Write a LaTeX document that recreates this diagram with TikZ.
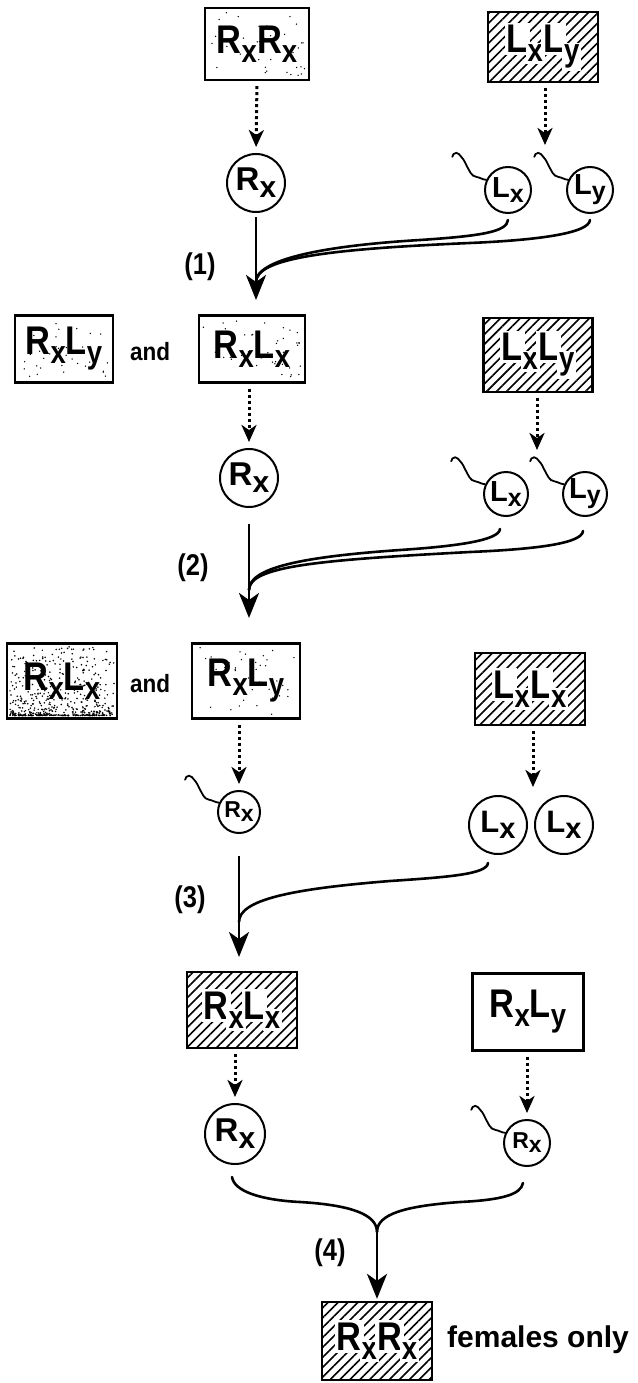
\documentclass[tikz,border=0pt]{standalone}
\usepackage{fontspec}
\setmainfont{Liberation Sans}
\usepackage{graphicx}
\usetikzlibrary{arrows.meta,patterns.meta,calc}

\newcommand\wb[1]{{\setlength\fboxsep{2.5pt}\hspace*{-2.5pt}\colorbox{white}{#1}\hspace*{-2.5pt}}}
\newcommand\BL[2]{{\fontsize{40}{40}\selectfont #1}\raisebox{-9pt}{\fontsize{32}{32}\selectfont #2}}
\newcommand\HBL[2]{\wb{\fontsize{40}{40}\selectfont #1}\raisebox{-9pt}{\wb{\fontsize{32}{32}\selectfont #2}}}
\newcommand\boxtext[1]{\scalebox{0.86}[1]{\bfseries #1}}
\newcommand\CL[5]{{\bfseries\fontsize{#3}{#3}\selectfont #1}\raisebox{-#5}{\bfseries\fontsize{#4}{#4}\selectfont #2}}

% light stippled box: name, x, y(screen), w, h, label
\newcommand\stipbox[6]{%
  \node[bx, minimum width=#4pt, minimum height=#5pt] (#1) at (#2,-#3) {};
  \foreach \i in {1,...,40}{%
    \pgfmathsetmacro\sx{#2-#4/2+4+rnd*(#4-8)}%
    \pgfmathsetmacro\sy{-#3-#5/2+4+rnd*(#5-8)}%
    \fill (\sx,\sy) circle (0.75pt);}
  \node (#1t) at (#2,-#3) {\boxtext{#6}};
}
% dense (bottom) stippled box
\newcommand\densebox[6]{%
  \node[bx, minimum width=#4pt, minimum height=#5pt] (#1) at (#2,-#3) {};
  \foreach \i in {1,...,520}{%
    \pgfmathsetmacro\sx{#2-#4/2+3+rnd*(#4-6)}%
    \pgfmathsetmacro\sy{-#3-#5/2+3+(#5-6)*rnd^3}%
    \fill (\sx,\sy) circle (0.85pt);}
  \node (#1t) at (#2,-#3) {\boxtext{#6}};
}
% hatched box
\newcommand\hatbox[6]{%
  \node[hb, minimum width=#4pt, minimum height=#5pt] (#1) at (#2,-#3) {};
  \node (#1t) at (#2,-#3) {\boxtext{#6}};
}
\newcommand\tail[1]{\draw[tailst] (#1) to[out=175,in=-10] ++(-10,3) to[out=170,in=-60] ++(-9,10) to[out=120,in=-45] ++(-6,10) to[out=135,in=0] ++(-5,4) to[out=180,in=80] ++(-4,-4);}

\begin{document}
\begin{tikzpicture}[x=1pt,y=1pt,
  bx/.style={draw, line width=2.3pt, inner sep=0pt},
  hb/.style={bx, pattern={Lines[angle=45,distance=7pt,line width=1.6pt]}},
  circ/.style={draw, circle, line width=2pt, inner sep=0pt},
  dotarrow/.style={line width=3pt, dash pattern=on 3pt off 3pt, -{Stealth[length=17pt,width=15pt,inset=5pt]}, shorten <=5pt, shorten >=6pt},
  mainarrow/.style={line width=2.8pt, -{Stealth[length=25pt,width=20pt,inset=7pt]}},
  feed/.style={line width=2.6pt, line cap=round},
  tailst/.style={line width=1.8pt, line cap=round},
  steplab/.style={inner sep=0pt},
  andlab/.style={inner sep=0pt}
]
\fill[white] (0,0) rectangle (637,-1383);
\useasboundingbox (0,0) rectangle (637,-1383);
\pgfmathsetseed{12345}

% ---------- row 1 ----------
\stipbox{A1}{257}{44}{104}{72}{\BL{R}{x}\BL{R}{x}}
\hatbox{B1}{543}{47}{110}{70}{\HBL{L}{x}\HBL{L}{y}}
\node[circ, minimum size=58pt] (C1) at (256,-183) {\CL{R}{x}{33}{30}{7pt}};
\node[circ, minimum size=46pt] (D1) at (508,-190) {\CL{L}{x}{29}{25}{5pt}};
\node[circ, minimum size=46pt] (E1) at (590,-190) {\CL{L}{y}{29}{25}{5pt}};
\tail{D1.155}
\tail{E1.155}
\coordinate (b1tip) at (545,-145);
\draw[dotarrow] (A1.south) -- (C1.north);
\draw[dotarrow, shorten >=0pt] (B1.south -| b1tip) -- (b1tip);
\coordinate (t1) at (256,-300);
\coordinate (j1) at (256,-282);
\draw[mainarrow, shorten <=4pt] (C1.south) -- (C1.south |- t1);
\draw[feed] ($(D1.south)+(0,-6)$) .. controls +(-1,-12) and +(60,4) .. (420,-240) .. controls +(-100,-6) and +(0,22) .. (j1);
\draw[feed] ($(E1.south)+(0,-6)$) .. controls +(-1,-13) and +(70,3) .. (470,-243) .. controls +(-140,-6) and +(0,24) .. (j1);
\node[steplab] (l1) at (200,-267) {\scalebox{0.85}[1]{\bfseries\fontsize{30}{30}\selectfont (1)}};

% ---------- row 2 ----------
\stipbox{F2}{64}{349}{98}{67}{\BL{R}{x}\BL{L}{y}}
\node[andlab] (and2) at (150,-352) {\scalebox{0.9}[1]{\bfseries\fontsize{25}{25}\selectfont and}};
\stipbox{G2}{252}{349}{106}{67}{\BL{R}{x}\BL{L}{x}}
\hatbox{H2}{538}{355}{109}{74}{\HBL{L}{x}\HBL{L}{y}}
\node[circ, minimum size=58pt] (I2) at (249,-478) {\CL{R}{x}{33}{30}{7pt}};
\node[circ, minimum size=44pt] (D2) at (506,-494) {\CL{L}{x}{29}{25}{5pt}};
\node[circ, minimum size=44pt] (E2) at (585,-494) {\CL{L}{y}{29}{25}{5pt}};
\tail{D2.155}
\tail{E2.155}
\coordinate (h2tip) at (537,-450);
\draw[dotarrow] (I2.north |- G2.south) -- (I2.north);
\draw[dotarrow, shorten >=0pt] (H2.south -| h2tip) -- (h2tip);
\coordinate (t2) at (249,-618);
\coordinate (j2) at (249,-590);
\draw[mainarrow, shorten <=16pt] (I2.south) -- (I2.south |- t2);
\draw[feed] ($(D2.south)+(-6,-12)$) .. controls +(-1,-11) and +(60,4) .. (400,-550) .. controls +(-100,-7) and +(0,22) .. (j2);
\draw[feed] ($(E2.south)+(-2,-14)$) .. controls +(-1,-12) and +(70,3) .. (470,-552) .. controls +(-150,-8) and +(0,24) .. (j2);
\node[steplab] (l2) at (193,-568) {\scalebox{0.85}[1]{\bfseries\fontsize{30}{30}\selectfont (2)}};

% ---------- row 3 ----------
\densebox{J3}{62}{681}{110}{75}{\BL{R}{x}\BL{L}{x}}
\node[andlab] (and3) at (150,-684) {\scalebox{0.9}[1]{\bfseries\fontsize{25}{25}\selectfont and}};
\stipbox{K3}{246}{681}{108}{75}{\BL{R}{x}\BL{L}{y}}
\hatbox{L3}{530}{689}{110}{72}{\HBL{L}{x}\HBL{L}{x}}
\node[circ, minimum size=42pt] (M3) at (239,-812) {\CL{R}{x}{23}{23}{4pt}};
\tail{M3.155}
\node[circ, minimum size=58pt] (N3) at (498,-825) {\CL{L}{x}{31}{29}{6pt}};
\node[circ, minimum size=58pt] (O3) at (564,-825) {\CL{L}{x}{31}{29}{6pt}};
\coordinate (l3tip) at (533,-787);
\draw[dotarrow] (M3.north |- K3.south) -- (M3.north);
\draw[dotarrow, shorten >=0pt] (L3.south -| l3tip) -- (l3tip);
\coordinate (t3) at (239,-957);
\coordinate (j3) at (239,-922);
\draw[mainarrow, shorten <=22pt] (M3.south) -- (M3.south |- t3);
\draw[feed] ($(N3.south)+(-10,-8)$) .. controls +(-1,-11) and +(60,4) .. (390,-881) .. controls +(-100,-8) and +(0,22) .. (j3);
\node[steplab] (l3) at (190,-900) {\scalebox{0.85}[1]{\bfseries\fontsize{30}{30}\selectfont (3)}};

% ---------- row 4 ----------
\hatbox{P4}{242}{1010}{110}{76}{\HBL{R}{x}\HBL{L}{x}}
\node[bx, minimum width=111pt, minimum height=77pt] (Q4) at (528,-1012) {\boxtext{\BL{R}{x}\BL{L}{y}}};
\node[circ, minimum size=60pt] (R4) at (235,-1134) {\CL{R}{x}{33}{30}{7pt}};
\node[circ, minimum size=46pt] (S4) at (527,-1143) {\CL{R}{x}{23}{23}{4pt}};
\tail{S4.155}
\draw[dotarrow] (R4.north |- P4.south) -- (R4.north);
\draw[dotarrow] (S4.north |- Q4.south) -- (S4.north);
\coordinate (j4) at (377,-1232);
\draw[feed] ($(R4.south)+(-3,-12)$) .. controls +(2,-14) and +(-40,2) .. (300,-1202) .. controls +(50,-3) and +(0,18) .. (j4);
\draw[feed] ($(S4.south)+(-4,-16)$) .. controls +(-2,-12) and +(40,2) .. (460,-1202) .. controls +(-55,-4) and +(0,18) .. (j4);
\node[steplab] (l4) at (330,-1253) {\scalebox{0.85}[1]{\bfseries\fontsize{30}{30}\selectfont (4)}};

% ---------- result ----------
\hatbox{T5}{377}{1341}{110}{78}{\HBL{R}{x}\HBL{R}{x}}
\draw[mainarrow, shorten >=2pt] (j4) -- (T5.north);
\node[anchor=west, inner sep=0pt] (fo) at (447,-1340) {\bfseries\fontsize{30}{30}\selectfont females only};
\end{tikzpicture}
\end{document}
